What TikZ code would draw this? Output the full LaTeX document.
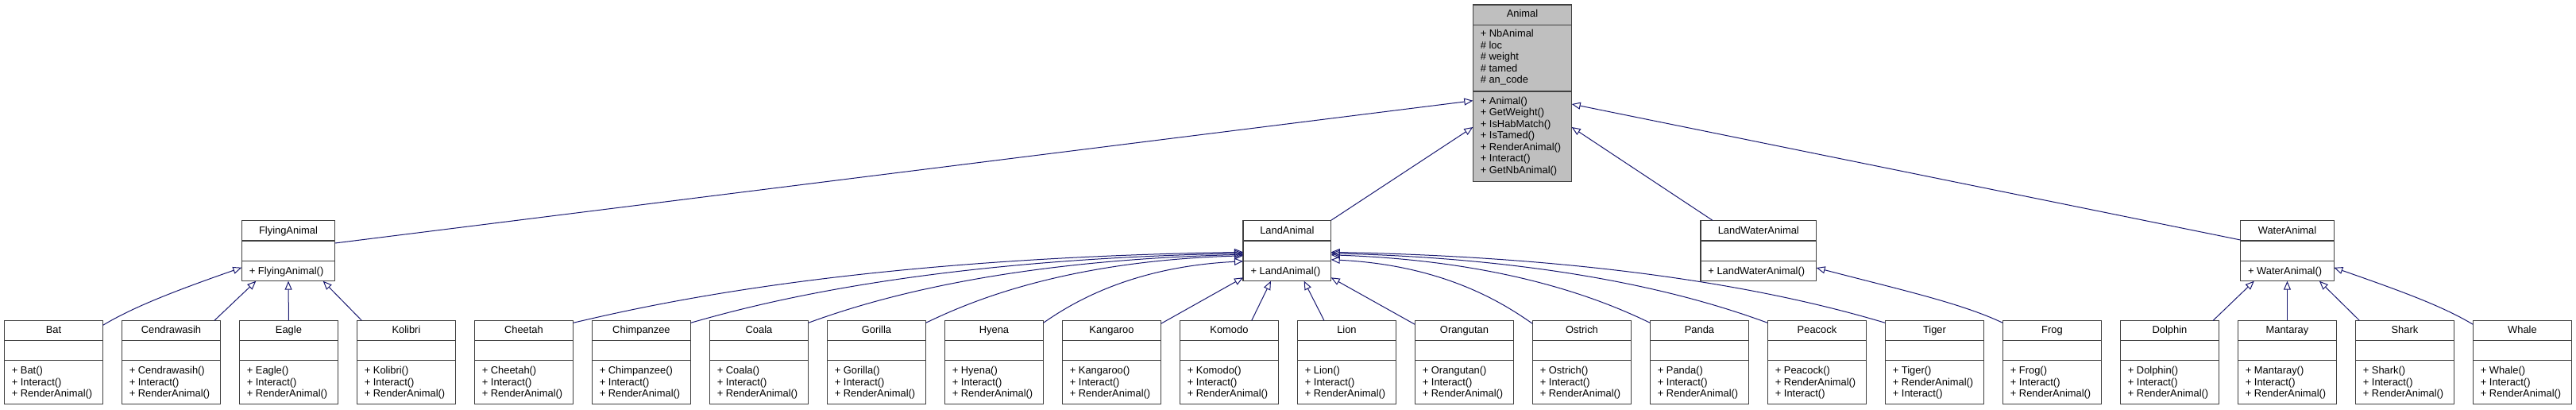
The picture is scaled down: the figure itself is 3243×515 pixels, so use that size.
\documentclass[tikz,border=0pt]{standalone}
\usepackage{fontspec}
\setmainfont{Liberation Sans}
\usetikzlibrary{arrows.meta,calc}
\definecolor{edgeblue}{HTML}{191970}
\definecolor{boxline}{HTML}{404040}
\definecolor{basefill}{HTML}{BFBFBF}
\tikzset{
  cls/.style={draw=boxline, line width=1.4pt, fill=white, rectangle, inner sep=0pt, outer sep=0pt, anchor=north west},
  sepline/.style={draw=boxline, line width=1.4pt},
  txt/.style={inner sep=0pt, outer sep=0pt, font=\fontsize{12.9}{14.5}\selectfont, text=black},
  ttl/.style={txt, anchor=base},
  mem/.style={txt, anchor=base west},
  inh/.style={draw=edgeblue, line width=1pt, -{Triangle[open, length=11pt, width=9pt]}},
}
\newcommand\LeafBox[4]{%
  \node[cls, minimum width=124.3, minimum height=105.4] (#1) at ({5.3+148*#2},403.3) {};
  \draw[sepline] ($(#1.north west)+(0,25.4)$) -- ($(#1.north east)+(0,25.4)$);
  \draw[sepline] ($(#1.north west)+(0,50.4)$) -- ($(#1.north east)+(0,50.4)$);
  \node[ttl] (#1-title) at ($(#1.north)+(0,16.6)$) {#3};
  \foreach \m [count=\k] in {#4} {\node[mem] (#1-m\k) at ($(#1.north west)+(9.5,{50.4+16.8+14.5*(\k-1)})$) {+ \m};}
}
\newcommand\MidBox[4]{%
  \node[cls, minimum width=#3, minimum height=76.4] (#1) at (#2,277.3) {};
  \draw[sepline] ($(#1.north west)+(0,25.7)$) -- ($(#1.north east)+(0,25.7)$);
  \draw[sepline] ($(#1.north west)+(0,51.2)$) -- ($(#1.north east)+(0,51.2)$);
  \node[ttl] (#1-title) at ($(#1.north)+(0,17.2)$) {#4};
  \node[mem] (#1-m1) at ($(#1.north west)+(9.5,68.2)$) {+ #4()};
}
\begin{document}
\begin{tikzpicture}[x=1pt,y=-1pt]
\useasboundingbox (0,0) rectangle (3243,515);
% base class
\node[cls, fill=basefill, minimum width=124.4, minimum height=222.3] (Animal) at (1854.3,6) {};
\draw[sepline] ($(Animal.north west)+(0,25.7)$) -- ($(Animal.north east)+(0,25.7)$);
\draw[sepline] ($(Animal.north west)+(0,109)$) -- ($(Animal.north east)+(0,109)$);
\node[ttl] (Animal-title) at ($(Animal.north)+(0,15.9)$) {Animal};
\foreach \a [count=\k] in {+ NbAnimal, \# loc, \# weight, \# tamed, \# an\_code}
  {\node[mem] (Animal-a\k) at ($(Animal.north west)+(9.5,{40.8+14.5*(\k-1)})$) {\a};}
\foreach \m [count=\k] in {Animal(), GetWeight(), IsHabMatch(), IsTamed(), RenderAnimal(), Interact(), GetNbAnimal()}
  {\node[mem] (Animal-m\k) at ($(Animal.north west)+(9.5,{125.2+14.5*(\k-1)})$) {+ \m};}
% middle classes
\MidBox{Flying}{304.3}{117.4}{FlyingAnimal}
\MidBox{Land}{1565}{110.7}{LandAnimal}
\MidBox{LandWater}{2140.9}{145.8}{LandWaterAnimal}
\MidBox{Water}{2820.6}{117.7}{WaterAnimal}
% leaf classes
\LeafBox{Bat}{0}{Bat}{Bat(), Interact(), RenderAnimal()}
\LeafBox{Cendrawasih}{1}{Cendrawasih}{Cendrawasih(), Interact(), RenderAnimal()}
\LeafBox{Eagle}{2}{Eagle}{Eagle(), Interact(), RenderAnimal()}
\LeafBox{Kolibri}{3}{Kolibri}{Kolibri(), Interact(), RenderAnimal()}
\LeafBox{Cheetah}{4}{Cheetah}{Cheetah(), Interact(), RenderAnimal()}
\LeafBox{Chimpanzee}{5}{Chimpanzee}{Chimpanzee(), Interact(), RenderAnimal()}
\LeafBox{Coala}{6}{Coala}{Coala(), Interact(), RenderAnimal()}
\LeafBox{Gorilla}{7}{Gorilla}{Gorilla(), Interact(), RenderAnimal()}
\LeafBox{Hyena}{8}{Hyena}{Hyena(), Interact(), RenderAnimal()}
\LeafBox{Kangaroo}{9}{Kangaroo}{Kangaroo(), Interact(), RenderAnimal()}
\LeafBox{Komodo}{10}{Komodo}{Komodo(), Interact(), RenderAnimal()}
\LeafBox{Lion}{11}{Lion}{Lion(), Interact(), RenderAnimal()}
\LeafBox{Orangutan}{12}{Orangutan}{Orangutan(), Interact(), RenderAnimal()}
\LeafBox{Ostrich}{13}{Ostrich}{Ostrich(), Interact(), RenderAnimal()}
\LeafBox{Panda}{14}{Panda}{Panda(), Interact(), RenderAnimal()}
\LeafBox{Peacock}{15}{Peacock}{Peacock(), RenderAnimal(), Interact()}
\LeafBox{Tiger}{16}{Tiger}{Tiger(), RenderAnimal(), Interact()}
\LeafBox{Frog}{17}{Frog}{Frog(), Interact(), RenderAnimal()}
\LeafBox{Dolphin}{18}{Dolphin}{Dolphin(), Interact(), RenderAnimal()}
\LeafBox{Mantaray}{19}{Mantaray}{Mantaray(), Interact(), RenderAnimal()}
\LeafBox{Shark}{20}{Shark}{Shark(), Interact(), RenderAnimal()}
\LeafBox{Whale}{21}{Whale}{Whale(), Interact(), RenderAnimal()}
% inheritance to Animal
\draw[inh] ($(Flying.north east)+(0,28.7)$) -- ($(Animal.north west)+(0,120.7)$);
\draw[inh] (Land.north east) -- ($(Animal.north west)+(0,154)$);
\draw[inh] ($(LandWater.north west)+(15,0)$) -- ($(Animal.north east)+(0,154)$);
\draw[inh] ($(Water.north west)+(0,24.7)$) -- ($(Animal.north east)+(0,125)$);
% FlyingAnimal
\draw[inh] ($(Bat.north east)+(0,6)$) .. controls +(40,-24) and +(-80,28) .. ($(Flying.north west)+(0,59.4)$);
\draw[inh] ($(Cendrawasih.north east)+(-7.6,0)$) -- ($(Flying.south west)+(18,0)$);
\draw[inh] (Eagle.north) -- (Flying.south);
\draw[inh] ($(Kolibri.north west)+(6,0)$) -- ($(Flying.south east)+(-15,0)$);
% LandAnimal, left side
\draw[inh] ($(Cheetah.north east)+(0,3)$) .. controls +(110,-26) and +(-481,8) .. ($(Land.north west)+(0,40)$);
\draw[inh] ($(Chimpanzee.north east)+(0,3)$) .. controls +(90,-26) and +(-396,8) .. ($(Land.north west)+(0,41.5)$);
\draw[inh] ($(Coala.north east)+(0,3)$) .. controls +(71,-26) and +(-312,8) .. ($(Land.north west)+(0,43)$);
\draw[inh] ($(Gorilla.north east)+(0,3)$) .. controls +(52,-25) and +(-228,7) .. ($(Land.north west)+(0,44.5)$);
\draw[inh] ($(Hyena.north east)+(0,3)$) .. controls +(33,-23) and +(-143,7) .. ($(Land.north west)+(0,51.5)$);
\draw[inh] ($(Kangaroo.north east)+(0,4)$) -- ($(Land.north west)+(0,72)$);
\draw[inh] ($(Komodo.north)+(28.3,0)$) -- ($(Land.south)+(-20.4,0)$);
\draw[inh] ($(Lion.north)+(-28.5,0)$) -- ($(Land.south)+(21.3,0)$);
% LandAnimal, right side
\draw[inh] ($(Orangutan.north west)+(0,5)$) -- ($(Land.north east)+(0,72)$);
\draw[inh] ($(Ostrich.north west)+(0,4)$) .. controls +(-33,-23) and +(145,7) .. ($(Land.north east)+(0,49.5)$);
\draw[inh] ($(Panda.north west)+(0,3)$) .. controls +(-52,-25) and +(229,8) .. ($(Land.north east)+(0,43.5)$);
\draw[inh] ($(Peacock.north west)+(0,3)$) .. controls +(-71,-26) and +(313,8) .. ($(Land.north east)+(0,41.5)$);
\draw[inh] ($(Tiger.north west)+(0,3)$) .. controls +(-91,-27) and +(398,8) .. ($(Land.north east)+(0,40)$);
% LandWaterAnimal
\draw[inh] ($(Frog.north west)+(0,3)$) .. controls +(-53,-25) and +(107,28) .. ($(LandWater.north east)+(0,59.7)$);
% WaterAnimal
\draw[inh] ($(Dolphin.north east)+(-7.4,0)$) -- ($(Water.south west)+(17.2,0)$);
\draw[inh] (Mantaray.north) -- (Water.south);
\draw[inh] ($(Shark.north west)+(5,0)$) -- ($(Water.south east)+(-18.4,0)$);
\draw[inh] ($(Whale.north west)+(0,5)$) .. controls +(-40,-24) and +(80,28) .. ($(Water.north east)+(0,59.5)$);
\end{tikzpicture}
\end{document}
